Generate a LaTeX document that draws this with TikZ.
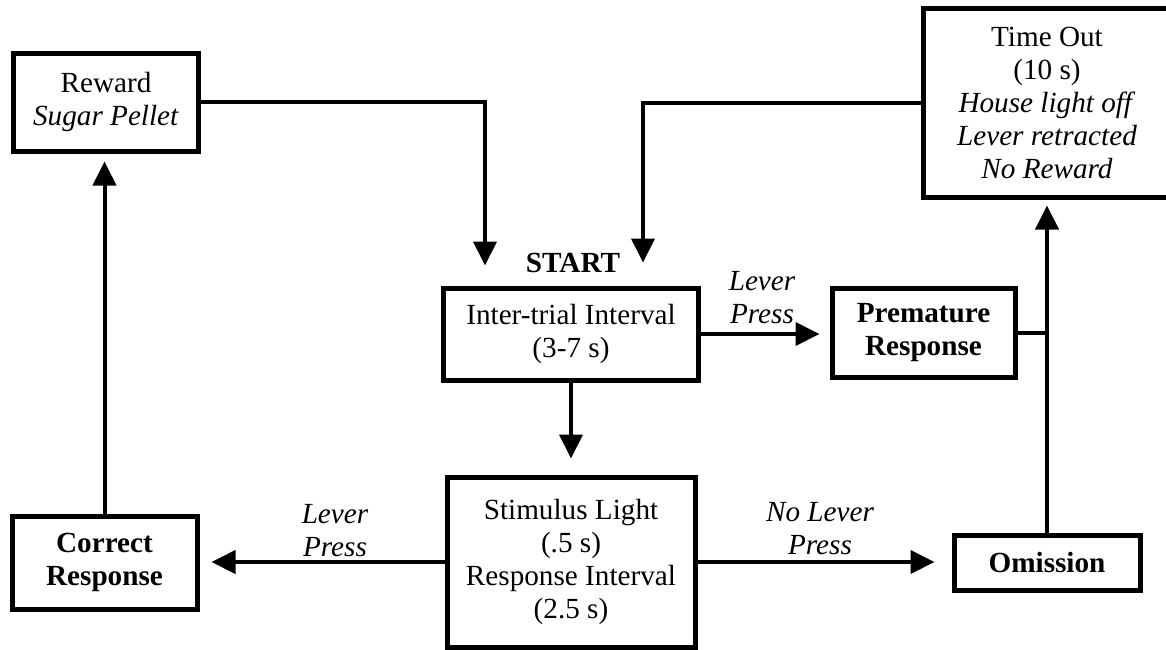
\documentclass[tikz,border=0pt]{standalone}
\usepackage{fontspec}
\setmainfont{Liberation Serif}
\usetikzlibrary{arrows.meta,calc}
\begin{document}
\begin{tikzpicture}[x=0.5pt,y=-0.5pt,
  txt/.style={font=\fontsize{14.6}{16.5}\selectfont},
  box/.style={draw,line width=2.5pt,rectangle,inner sep=0pt,align=center,txt},
  bbox/.style={box,font=\fontsize{14.6}{16.5}\selectfont\bfseries},
  conn/.style={line width=2pt},
  arr/.style={conn,-{Triangle[length=12pt,width=11.5pt]}},
  lbl/.style={align=center,inner sep=0pt,font=\fontsize{14.6}{16.5}\selectfont\itshape}]
\useasboundingbox (0,0) rectangle (1166,649);
\clip (0,0) rectangle (1166,649);
% boxes
\node[box,minimum width=92.5pt,minimum height=49pt] (reward) at (106,102) {Reward\\\textit{Sugar Pellet}};
\node[box,minimum width=124pt,minimum height=94.5pt] (timeout) at (1047,102.5) {Time Out\\(10 s)\\\textit{House light off}\\\textit{Lever retracted}\\\textit{No Reward}};
\node[box,minimum width=127.5pt,minimum height=46pt] (inter) at (571,334) {Inter-trial Interval\\(3-7 s)};
\node[bbox,minimum width=91.5pt,minimum height=44.5pt] (premature) at (923.5,333) {Premature\\Response};
\node[box,minimum width=124pt,minimum height=85pt] (stim) at (571,562) {Stimulus Light\\(.5 s)\\Response Interval\\(2.5 s)};
\node[bbox,minimum width=92.5pt,minimum height=46.5pt] (correct) at (104.5,562.5) {Correct\\Response};
\node[bbox,minimum width=93pt,minimum height=27.5pt] (omission) at (1047,562.5) {Omission};
\node[txt,font=\fontsize{14.6}{16.5}\selectfont\bfseries,inner sep=0pt] (start) at (573,263) {START};
% labels
\node[lbl] (lp1) at (762,298) {Lever\\Press};
\node[lbl] (lp2) at (335,531) {Lever\\Press};
\node[lbl] (nlp) at (820,529) {No Lever\\Press};
% connectors
\draw[arr,shorten >=10pt] (reward.east) -| ([xshift=-43pt]inter.north);
\draw[arr,shorten >=11.5pt] (timeout.west) -| ([xshift=36pt]inter.north);
\draw[arr,shorten >=5pt] (inter.east) -- (inter.east -| premature.west);
\draw[arr,shorten >=8pt] (inter.south) -- (inter.south |- stim.north);
\draw[arr,shorten >=6pt] (stim.west) -- (stim.west -| correct.east);
\draw[arr,shorten >=8.5pt] (stim.east) -- (stim.east -| omission.west);
\draw[arr,shorten >=4pt] (correct.north) -- (correct.north |- reward.south);
\draw[arr,shorten >=3pt] (omission.north) -- (timeout.south);
\draw[conn] (premature.east) -- (premature.east -| omission.north);
\end{tikzpicture}
\end{document}
